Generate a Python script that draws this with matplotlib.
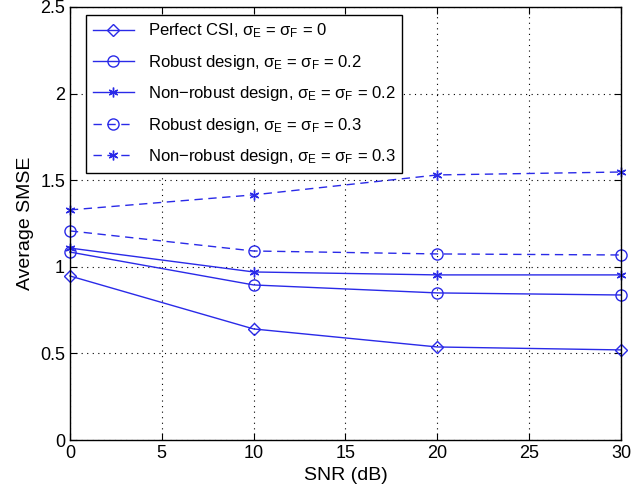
import numpy as np
import matplotlib
matplotlib.use("Agg")
import matplotlib.pyplot as plt

plt.rcParams['font.family'] = ['Liberation Sans', 'DejaVu Sans']
plt.rcParams['mathtext.fontset'] = 'custom'
plt.rcParams['mathtext.rm'] = 'Liberation Sans'
plt.rcParams['mathtext.it'] = 'Liberation Sans'

snr = [0, 10, 20, 30]
perfect_csi = [0.947, 0.641, 0.537, 0.520]
robust_02 = [1.085, 0.895, 0.849, 0.837]
nonrobust_02 = [1.108, 0.970, 0.953, 0.953]
robust_03 = [1.207, 1.091, 1.074, 1.068]
nonrobust_03 = [1.328, 1.415, 1.530, 1.547]

labels = [
    r"Perfect CSI, $\sigma_\mathrm{E}$ = $\sigma_\mathrm{F}$ = 0",
    r"Robust design, $\sigma_\mathrm{E}$ = $\sigma_\mathrm{F}$ = 0.2",
    r"Non$-$robust design, $\sigma_\mathrm{E}$ = $\sigma_\mathrm{F}$ = 0.2",
    r"Robust design, $\sigma_\mathrm{E}$ = $\sigma_\mathrm{F}$ = 0.3",
    r"Non$-$robust design, $\sigma_\mathrm{E}$ = $\sigma_\mathrm{F}$ = 0.3",
]

blue = "#2a2ae8"
star = (6, 2, 0)  # matlab-like asterisk
fig = plt.figure(figsize=(6.41, 4.93), dpi=100)
ax = fig.add_axes([0.109, 0.1075, 0.860, 0.8785])

common = dict(color=blue, lw=1, clip_on=False, mew=1)
ax.plot(snr, perfect_csi, '-', marker='D', mfc='none', ms=6.5, label=labels[0], **common)
ax.plot(snr, robust_02, '-', marker='o', mfc='none', ms=8, label=labels[1], **common)
ax.plot(snr, nonrobust_02, '-', marker=star, ms=7, label=labels[2], **common)
ax.plot(snr, robust_03, '--', marker='o', mfc='none', ms=8, dashes=(6, 4), label=labels[3], **common)
ax.plot(snr, nonrobust_03, '--', marker=star, ms=7, dashes=(6, 4), label=labels[4], **common)

ax.set_xlim(0, 30)
ax.set_ylim(0, 2.5)
ax.set_xticks([0, 5, 10, 15, 20, 25, 30])
ax.set_yticks([0, 0.5, 1, 1.5, 2, 2.5])
ax.set_yticklabels(["0", "0.5", "1", "1.5", "2", "2.5"])
ax.tick_params(direction='in', top=True, right=True, labelsize=13, length=5)
ax.grid(True, color='black', linestyle=(0, (1, 4)), linewidth=0.8)
for s in ax.spines.values():
    s.set_linewidth(1)

ax.set_xlabel("SNR (dB)", fontsize=14)
ax.set_ylabel("Average SMSE", fontsize=14)

leg = ax.legend(loc='upper left', bbox_to_anchor=(0.029, 0.982), borderaxespad=0,
                fontsize=12, fancybox=False, edgecolor='black',
                framealpha=1, handlelength=2.5, labelspacing=0.75)
leg.get_frame().set_linewidth(1)

fig.savefig("out.png", dpi=100)
